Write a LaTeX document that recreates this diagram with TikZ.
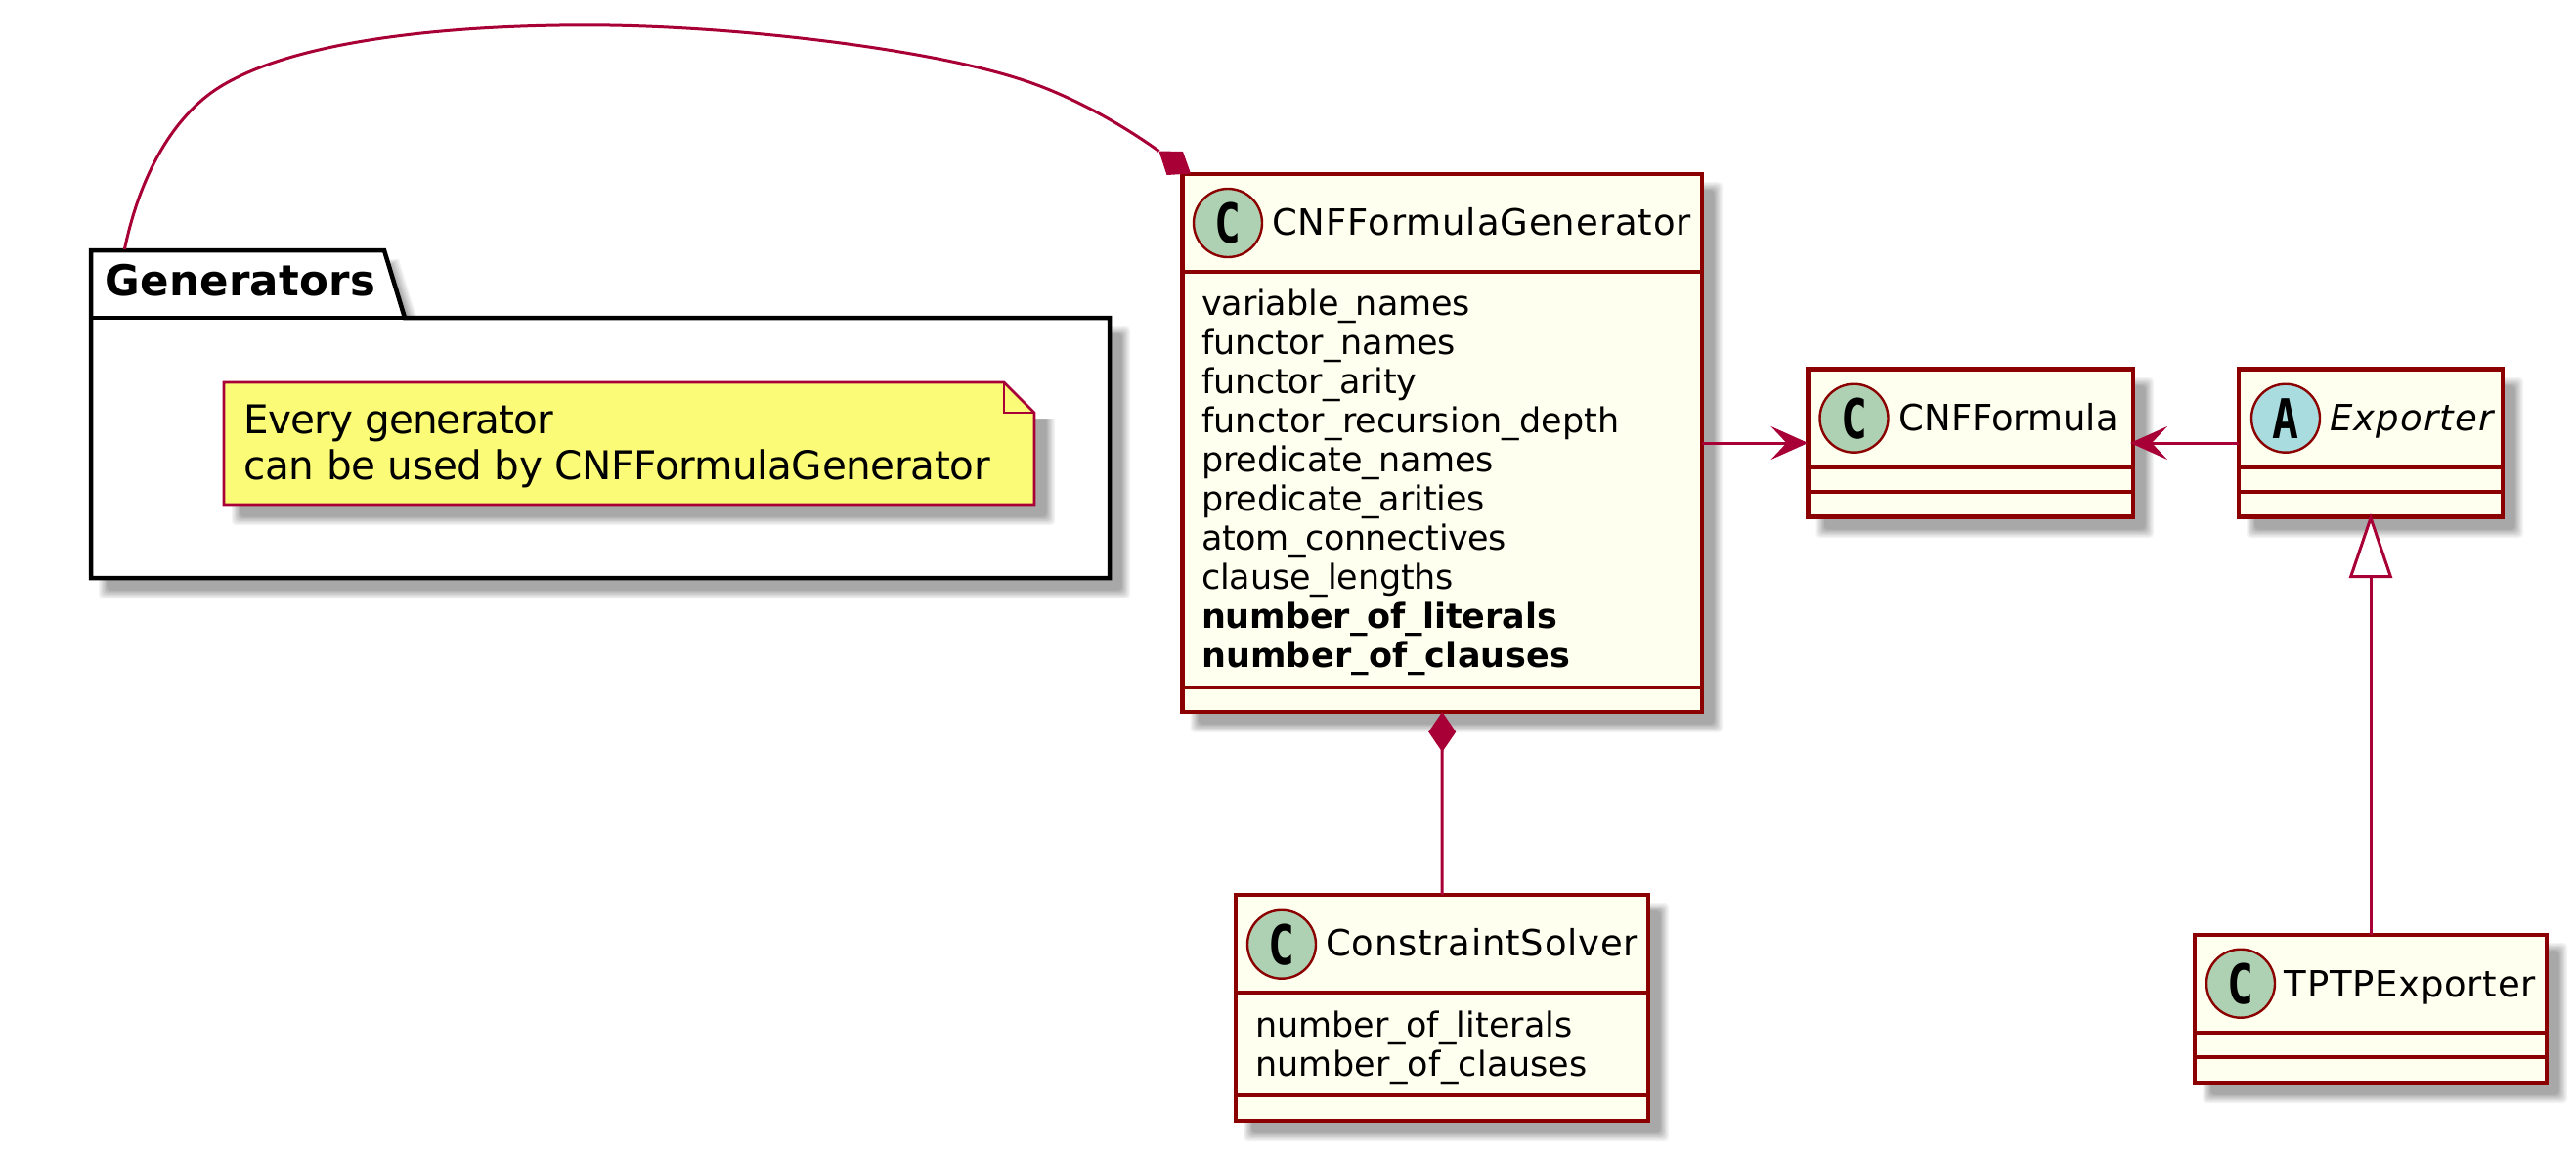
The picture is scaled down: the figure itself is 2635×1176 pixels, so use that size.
\documentclass[tikz,border=0pt]{standalone}
\usepackage{graphicx}
\usepackage{fontspec}
\setmainfont{DejaVu Sans}
\newfontfamily\glyphf{DejaVu Sans Mono}
\usetikzlibrary{arrows.meta}
\definecolor{boxred}{HTML}{8B0000}
\definecolor{connred}{HTML}{A80036}
\definecolor{boxfill}{HTML}{FFFFF0}
\definecolor{notefill}{HTML}{FBFB77}
\definecolor{circC}{HTML}{ADD1B2}
\definecolor{circA}{HTML}{A9DCDF}
\newsavebox\fitbox
\newcommand\fn[1]{\fontsize{#1}{#1}\selectfont\def\fsz{#1}}
% font, target width (px), number of characters, text
\newcommand\fit[4]{{#1\sbox\fitbox{#4}%
  \pgfmathsetmacro\ls{100*(#2-\wd\fitbox)/(#3-1)/\fsz}%
  \addfontfeature{LetterSpace=\ls}#4}}
\newcommand\shd[4]{%
  \foreach \i in {0,...,6}{%
    \pgfmathsetmacro\g{(\i+1)/7*34}%
    \fill[black!\g,rounded corners=4pt]
      (#1+8+1.4*\i,#2+8+1.4*\i) rectangle (#3+21-1.4*\i,#4+21-1.4*\i);
  }}
\newcommand\gl[1]{{\glyphf\bfseries\fontsize{56}{56}\selectfont\scalebox{.8}[1]{#1}}}
\tikzset{
  classbox/.style={draw=boxred,fill=boxfill,line width=4.5pt,inner sep=0pt,outer sep=0pt,anchor=north west},
  sepline/.style={draw=boxred,line width=4.2pt},
  lbl/.style={anchor=base west,inner sep=0pt,outer sep=0pt,text=black},
  badge/.style={circle,draw=boxred,line width=2.4pt,fill=circC,minimum size=70pt,inner sep=0pt},
  conn/.style={draw=connred,line width=3pt},
  openarrow/.style={-{Stealth[length=38pt,width=34pt,inset=16pt,line width=1pt,connred]}},
}
\begin{document}
\begin{tikzpicture}[x=1pt,y=-1pt]
\useasboundingbox (0,0) rectangle (2635,1176);
\fill[white] (0,0) rectangle (2635,1176);
% shadows
\shd{93}{325}{1135}{591}
\foreach \i in {0,...,6}{%
  \pgfmathsetmacro\g{(\i+1)/7*34}%
  \fill[black!\g] (102,265+\i) -- (408-1.4*\i,265+\i) -- (428-1.4*\i,330) -- (102,330) -- cycle;
}
\shd{1209.5}{178}{1741}{728}
\shd{1849.5}{378}{2182}{529}
\shd{2290}{378}{2560}{529}
\shd{1264}{915}{1686}{1146}
\shd{2245}{956}{2605}{1107}
% package
\draw[line width=4.5pt,fill=white,draw=black] (93,325) -- (93,256) -- (393,256) -- (414,325) -- (1135,325) -- (1135,591) -- (93,591) -- cycle;
\draw[line width=4.5pt,draw=black] (93,325) -- (414,325);
\node[lbl] (pkgtitle) at (107.5,302.7) {\fit{\fn{43.5}\bfseries}{276.5}{10}{Generators}};
\coordinate (pkgtop) at (127.4,255);
% note
\shd{229}{391}{1058}{516}
\fill[white] (1020,380) -- (1090,380) -- (1090,428) -- (1058,428) -- cycle;
\draw[draw=connred,fill=notefill,line width=2.8pt] (229,391) -- (1027,391) -- (1058,422) -- (1058,516) -- (229,516) -- cycle;
\draw[draw=connred,line width=2.8pt] (1027,391) -- (1027,422) -- (1058,422);
\node[lbl] (note1) at (249.5,443.3) {\fit{\fn{40.5}}{316}{15}{Every generator}};
\node[lbl] (note2) at (249.5,490.7) {\fit{\fn{40.5}}{762}{34}{can be used by CNFFormulaGenerator}};
% classes
\node[classbox,minimum width=531.5pt,minimum height=550pt] (gen) at (1209.5,178) {};
\draw[sepline] (gen.west |- 0,278) -- (gen.east |- 0,278);
\draw[sepline] (gen.west |- 0,703) -- (gen.east |- 0,703);
\node[badge] (genC) at (1256,228) {\gl{C}};
\node[lbl] (genT) at (1301,240.7) {\fit{\fn{37}}{429}{19}{CNFFormulaGenerator}};
\node[lbl] (a1) at (1229,322) {\fit{\fn{35}}{275}{14}{variable\_names}};
\node[lbl] (a2) at (1229,362) {\fit{\fn{35}}{260}{13}{functor\_names}};
\node[lbl] (a3) at (1229,402) {\fit{\fn{35}}{220.5}{13}{functor\_arity}};
\node[lbl] (a4) at (1229,442) {\fit{\fn{35}}{428}{23}{functor\_recursion\_depth}};
\node[lbl] (a5) at (1229,482) {\fit{\fn{35}}{299}{15}{predicate\_names}};
\node[lbl] (a6) at (1229,522) {\fit{\fn{35}}{290}{17}{predicate\_arities}};
\node[lbl] (a7) at (1229,562) {\fit{\fn{35}}{312}{16}{atom\_connectives}};
\node[lbl] (a8) at (1229,602) {\fit{\fn{35}}{258}{14}{clause\_lengths}};
\node[lbl] (a9) at (1229,642) {\fit{\fn{35}\bfseries}{364}{18}{number\_of\_literals}};
\node[lbl] (a10) at (1229,682) {\fit{\fn{35}\bfseries}{377}{17}{number\_of\_clauses}};

\node[classbox,minimum width=332.5pt,minimum height=151pt] (cnf) at (1849.5,377.5) {};
\draw[sepline] (cnf.west |- 0,478) -- (cnf.east |- 0,478);
\draw[sepline] (cnf.west |- 0,503) -- (cnf.east |- 0,503);
\node[badge] (cnfC) at (1896.5,427.7) {\gl{C}};
\node[lbl] (cnfT) at (1942.7,440.7) {\fit{\fn{37}}{224}{10}{CNFFormula}};

\node[classbox,minimum width=270pt,minimum height=151pt] (exp) at (2290,377.5) {};
\draw[sepline] (exp.west |- 0,478) -- (exp.east |- 0,478);
\draw[sepline] (exp.west |- 0,503) -- (exp.east |- 0,503);
\node[badge,fill=circA] (expA) at (2338,427.7) {\gl{A}};
\node[lbl] (expT) at (2383,440.7) {\fit{\fn{37}\itshape}{168}{8}{Exporter}};

\node[classbox,minimum width=422pt,minimum height=231pt] (solver) at (1264,915) {};
\draw[sepline] (solver.west |- 0,1015) -- (solver.east |- 0,1015);
\draw[sepline] (solver.west |- 0,1120) -- (solver.east |- 0,1120);
\node[badge] (solverC) at (1311,965.7) {\gl{C}};
\node[lbl] (solverT) at (1356,977.7) {\fit{\fn{37}}{320}{16}{ConstraintSolver}};
\node[lbl] (s1) at (1284,1060) {\fit{\fn{35}}{324.5}{18}{number\_of\_literals}};
\node[lbl] (s2) at (1284,1100) {\fit{\fn{35}}{340}{17}{number\_of\_clauses}};

\node[classbox,minimum width=360pt,minimum height=151pt] (tptp) at (2245,956) {};
\draw[sepline] (tptp.west |- 0,1056) -- (tptp.east |- 0,1056);
\draw[sepline] (tptp.west |- 0,1081) -- (tptp.east |- 0,1081);
\node[badge] (tptpC) at (2292,1005.7) {\gl{C}};
\node[lbl] (tptpT) at (2336.7,1019) {\fit{\fn{37}}{257}{12}{TPTPExporter}};
% connectors
\coordinate (compA) at (1185.5,154.5);
\coordinate (exptip) at (2425,525);
\draw[conn] (pkgtop) .. controls (143,180) and (175,125) .. (215.8,95)
  .. controls (285,45) and (440,25.8) .. (600,25.8)
  .. controls (750,25.8) and (950,50) .. (1046,81.7)
  .. controls (1090,96) and (1140,122) .. (compA);
\fill[connred] (compA) -- (1210,155) -- (1218,177.5) -- (1193.5,179) -- cycle;
\draw[conn,{Diamond[length=41pt,width=28pt,connred]}-] (gen.south) -- (solver.north);
\draw[conn,openarrow] (gen.east) -- (cnf.west);
\draw[conn,openarrow,shorten >=-3pt] (exp.west) -- (cnf.east);
\draw[conn,{Triangle[open,length=66pt,width=44pt,fill=white,connred]}-] (exptip) -- (tptp.north);
\end{tikzpicture}
\end{document}
